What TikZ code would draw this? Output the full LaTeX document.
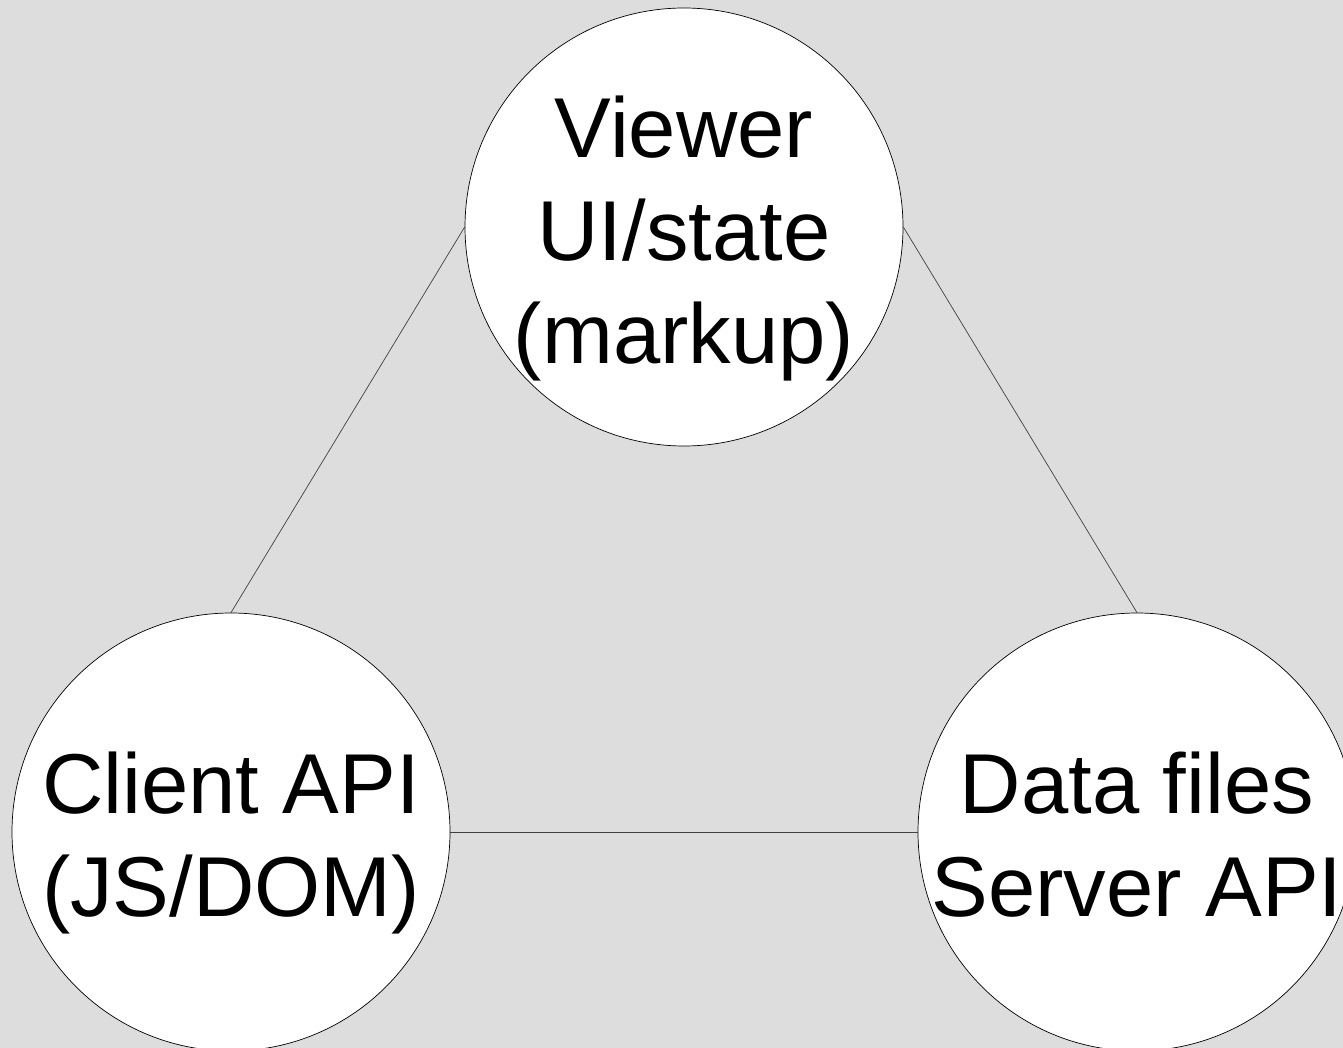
\documentclass[tikz,border=0pt]{standalone}
\usepackage{fontspec}
\setmainfont{Liberation Sans}
\begin{document}
\begin{tikzpicture}[x=1pt,y=-1pt,
  topic/.style={circle,draw=black,line width=0.7pt,fill=white,minimum size=438pt,inner sep=0pt},
  label text/.style={align=center,inner sep=0pt,font=\fontsize{85}{103}\selectfont},
  link/.style={draw=black!75,line width=0.7pt}]
\path[fill=black!13.5] (0,0) rectangle (1343,1048);
\useasboundingbox (0,0) rectangle (1343,1048);
\begin{scope}
\clip (0,0) rectangle (1343,1048);
\node[topic] (viewer) at (684,227) {};
\node[topic] (client) at (231,832) {};
\node[topic] (data) at (1137,832) {};
\node[label text] (viewer-text) at ([yshift=-12.5pt]viewer.center) {\strut Viewer\\\strut UI/state\\\strut (markup)};
\node[label text] (client-text) at ([yshift=-12.5pt]client.center) {\strut Client API\\\strut (JS/DOM)};
\node[label text] (data-text) at ([yshift=-12.5pt]data.center) {\strut Data files\\\strut Server API};
\draw[link] (viewer.west) -- (client.north);
\draw[link] (viewer.east) -- (data.north);
\draw[link] (client.east) -- (data.west);
\end{scope}
\end{tikzpicture}
\end{document}
